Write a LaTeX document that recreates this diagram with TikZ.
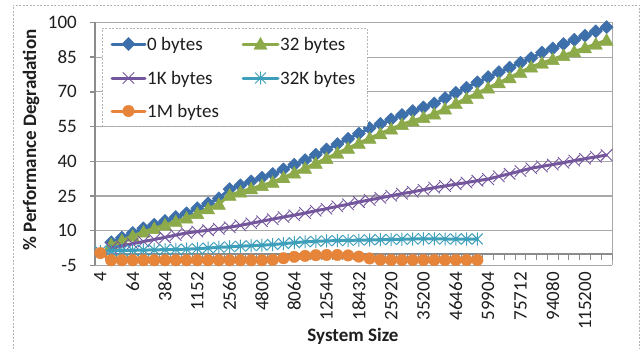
\documentclass[tikz,border=0pt]{standalone}
\usepackage{fontspec}
\setmainfont{Carlito}
\usetikzlibrary{plotmarks}
\definecolor{cBlue}{HTML}{3D6FAA}
\definecolor{cGreen}{HTML}{8CAA4A}
\definecolor{cPurple}{HTML}{74569C}
\definecolor{cTeal}{HTML}{3E9FBB}
\definecolor{cOrange}{HTML}{E6853A}
\definecolor{cGrid}{HTML}{A8A8A8}
\definecolor{cAxis}{HTML}{8C8C8C}
\definecolor{cFrame}{HTML}{B4B4B4}
\definecolor{cText}{HTML}{1E1E1E}
\pgfdeclareplotmark{mdiam}{%
  \pgfpathmoveto{\pgfqpoint{0pt}{\pgfplotmarksize}}%
  \pgfpathlineto{\pgfqpoint{\pgfplotmarksize}{0pt}}%
  \pgfpathlineto{\pgfqpoint{0pt}{-\pgfplotmarksize}}%
  \pgfpathlineto{\pgfqpoint{-\pgfplotmarksize}{0pt}}%
  \pgfpathclose\pgfusepathqfillstroke}
\pgfdeclareplotmark{mtri}{%
  \pgfpathmoveto{\pgfqpoint{0pt}{\pgfplotmarksize}}%
  \pgfpathlineto{\pgfqpoint{\pgfplotmarksize}{-0.8\pgfplotmarksize}}%
  \pgfpathlineto{\pgfqpoint{-\pgfplotmarksize}{-0.8\pgfplotmarksize}}%
  \pgfpathclose\pgfusepathqfillstroke}
\pgfdeclareplotmark{mcross}{%
  \pgfpathmoveto{\pgfqpoint{-\pgfplotmarksize}{-\pgfplotmarksize}}%
  \pgfpathlineto{\pgfqpoint{\pgfplotmarksize}{\pgfplotmarksize}}%
  \pgfpathmoveto{\pgfqpoint{-\pgfplotmarksize}{\pgfplotmarksize}}%
  \pgfpathlineto{\pgfqpoint{\pgfplotmarksize}{-\pgfplotmarksize}}%
  \pgfusepathqstroke}
\pgfdeclareplotmark{mstar}{%
  \pgfpathmoveto{\pgfqpoint{-\pgfplotmarksize}{-\pgfplotmarksize}}%
  \pgfpathlineto{\pgfqpoint{\pgfplotmarksize}{\pgfplotmarksize}}%
  \pgfpathmoveto{\pgfqpoint{-\pgfplotmarksize}{\pgfplotmarksize}}%
  \pgfpathlineto{\pgfqpoint{\pgfplotmarksize}{-\pgfplotmarksize}}%
  \pgfpathmoveto{\pgfqpoint{0pt}{-1.2\pgfplotmarksize}}%
  \pgfpathlineto{\pgfqpoint{0pt}{1.2\pgfplotmarksize}}%
  \pgfusepathqstroke}
\tikzset{
  txt/.style={font=\fontsize{19}{22}\selectfont, text=cText, inner sep=0pt},
  btxt/.style={font=\fontsize{19}{22}\selectfont\bfseries, text=cText, inner sep=0pt},
  gridline/.style={cGrid, line width=1.2pt},
  axisline/.style={cAxis, line width=1.4pt},
  frame/.style={cFrame, line width=0.8pt, dash pattern=on 2pt off 1.5pt},
  series/.style={line width=3pt, line join=round, line cap=round},
  sBlue/.style={series, cBlue, mark=mdiam, mark size=6.6pt, mark options={fill=cBlue, draw=cBlue, line width=0.4pt, solid}},
  sGreen/.style={series, cGreen, mark=mtri, mark size=6.6pt, mark options={fill=cGreen, draw=cGreen, line width=0.4pt, solid}},
  sPurple/.style={series, cPurple, mark=mcross, mark size=5.6pt, mark options={draw=cPurple, line width=0.9pt, solid}},
  sTeal/.style={series, cTeal, mark=mstar, mark size=5.2pt, mark options={draw=cTeal, line width=1pt, solid}},
  sOrange/.style={series, cOrange, mark=*, mark size=5.8pt, mark options={fill=cOrange, draw=cOrange, line width=0.3pt, solid}},
}
\begin{document}
\begin{tikzpicture}[x=1pt,y=1pt]
\useasboundingbox (0,0) rectangle (644,349);
\fill[white] (0,0) rectangle (644,349);
% outer chart frame
\draw[frame] (13,0) -- (13,344) -- (639,344) -- (639,0);

% axes and grid (plot area: x 95..612, v=0 at y 95.2, 2.313pt per unit)
\begin{scope}[shift={(95,95.2)}, x=10.77pt, y=2.313pt]
  \foreach \v in {10,25,40,55,70,85,100} {\draw[gridline] (0,\v) -- (48,\v);}
  \draw[gridline] (0,-5) -- (48,-5);
  \draw[cGrid, line width=0.8pt] (48,-5) -- (48,100);
  \draw[axisline] (0,0) -- (48,0);
  \foreach \k in {0,...,48} {\draw[cAxis, line width=0.8pt] (\k,0) -- ++(0,-2.6);}
  \draw[axisline] (0,-5) -- (0,100);
  \foreach \v in {-5,10,25,40,55,70,85,100} {
    \draw[axisline] (0,\v) -- ++(-5pt,0);
    \node[txt, anchor=east] (yl\v) at ([xshift=-18pt]0,\v) {\v};
  }
\end{scope}

% data series (category i centred at 89.615 + 10.77 i)
\begin{scope}[shift={(89.615,95.2)}, x=10.77pt, y=2.313pt]
  \draw[sBlue] plot coordinates {(2,5.0)(3,7.0)(4,9.0)(5,11.0)(6,12.6)(7,14.2)(8,15.9)(9,17.5)(10,19.7)(11,21.8)(12,24.0)(13,28.0)(14,29.6)(15,31.3)(16,32.9)(17,34.5)(18,36.5)(19,38.5)(20,40.5)(21,42.8)(22,45.1)(23,47.4)(24,49.7)(25,52.0)(26,54.3)(27,56.2)(28,58.1)(29,60.0)(30,61.7)(31,63.3)(32,65.0)(33,67.3)(34,69.6)(35,71.8)(36,74.1)(37,76.4)(38,78.5)(39,80.5)(40,82.6)(41,84.6)(42,87.0)(43,88.8)(44,90.7)(45,92.5)(46,94.3)(47,96.2)(48,98.0)};
  \draw[sGreen] plot coordinates {(2,4.0)(3,5.8)(4,7.7)(5,9.5)(6,11.0)(7,12.5)(8,14.0)(9,15.5)(10,17.5)(11,19.5)(12,21.5)(13,25.4)(14,26.8)(15,28.2)(16,29.6)(17,31.0)(18,33.0)(19,35.0)(20,37.0)(21,39.2)(22,41.3)(23,43.5)(24,45.7)(25,47.8)(26,50.0)(27,52.0)(28,54.0)(29,56.0)(30,57.5)(31,59.0)(32,60.5)(33,62.7)(34,65.0)(35,67.2)(36,69.5)(37,71.7)(38,74.0)(39,76.2)(40,78.5)(41,80.8)(42,82.5)(43,84.1)(44,85.8)(45,87.4)(46,89.1)(47,90.7)(48,92.4)};
  \draw[sPurple] plot coordinates {(2,2.5)(3,3.4)(4,4.4)(5,5.3)(6,6.2)(7,7.1)(8,8.1)(9,9.0)(10,9.6)(11,10.2)(12,10.8)(13,11.5)(14,12.3)(15,13.2)(16,14.1)(17,15.0)(18,15.9)(19,16.7)(20,17.6)(21,18.6)(22,19.5)(23,20.5)(24,21.4)(25,22.4)(26,23.3)(27,24.2)(28,25.1)(29,26.0)(30,26.8)(31,27.7)(32,28.6)(33,29.3)(34,30.1)(35,30.8)(36,31.6)(37,32.3)(38,33.5)(39,34.6)(40,35.8)(41,37.0)(42,37.8)(43,38.6)(44,39.4)(45,40.3)(46,41.1)(47,41.9)(48,42.7)};
  \draw[sTeal] plot coordinates {(1,1.0)(2,1.3)(3,1.4)(4,1.5)(5,1.6)(6,1.7)(7,1.8)(8,1.9)(9,2.0)(10,2.2)(11,2.5)(12,2.8)(13,3.0)(14,3.3)(15,3.5)(16,3.7)(17,4.0)(18,4.4)(19,4.8)(20,5.2)(21,5.4)(22,5.6)(23,5.7)(24,5.8)(25,5.9)(26,6.0)(27,6.1)(28,6.2)(29,6.3)(30,6.4)(31,6.5)(32,6.5)(33,6.4)(34,6.4)(35,6.4)(36,6.4)};
  \draw[sOrange] plot coordinates {(1,0.3)(2,-2.8)(3,-2.8)(4,-2.8)(5,-2.8)(6,-2.8)(7,-2.8)(8,-2.8)(9,-2.8)(10,-2.8)(11,-2.8)(12,-2.8)(13,-2.8)(14,-2.8)(15,-2.8)(16,-2.8)(17,-2.6)(18,-1.9)(19,-1.3)(20,-0.9)(21,-0.6)(22,-0.5)(23,-0.5)(24,-0.7)(25,-1.2)(26,-2.0)(27,-2.6)(28,-2.7)(29,-2.7)(30,-2.7)(31,-2.7)(32,-2.7)(33,-2.7)(34,-2.7)(35,-2.7)(36,-2.7)};
\end{scope}

% category labels
\foreach \lab [count=\k from 0] in {4,64,384,1152,2560,4800,8064,12544,18432,25920,35200,46464,59904,75712,94080,115200} {
  \pgfmathsetmacro\xx{95+10.77*(3*\k+0.5)}
  \node[txt, rotate=90, anchor=east] (xl\k) at (\xx,77) {\lab};
}

% axis titles
\node[btxt, rotate=90] (ytitle) at (31,209) {\% Performance Degradation};
\node[btxt, anchor=base] (xtitle) at (353,8) {System Size};

% legend
\node[draw=cFrame, line width=0.8pt, dash pattern=on 2pt off 1.5pt, fill=white, minimum width=265pt, minimum height=98pt, inner sep=0pt, anchor=north west] (legend) at (102,321) {};
\draw[sBlue, mark indices={2}] plot coordinates {(112,305)(128.5,305)(145,305)};
\node[txt, anchor=base west] (l0) at (147,299) {0 bytes};
\draw[sGreen, mark indices={2}] plot coordinates {(243,305)(260.5,305)(278,305)};
\node[txt, anchor=base west] (l32) at (280,299) {32 bytes};
\draw[sPurple, mark indices={2}] plot coordinates {(112,271)(128.5,271)(145,271)};
\node[txt, anchor=base west] (l1k) at (147,265) {1K bytes};
\draw[sTeal, mark indices={2}] plot coordinates {(243,271)(260.5,271)(278,271)};
\node[txt, anchor=base west] (l32k) at (280,265) {32K bytes};
\draw[sOrange, mark indices={2}] plot coordinates {(112,238)(128.5,238)(145,238)};
\node[txt, anchor=base west] (l1m) at (147,232) {1M bytes};
\end{tikzpicture}
\end{document}
